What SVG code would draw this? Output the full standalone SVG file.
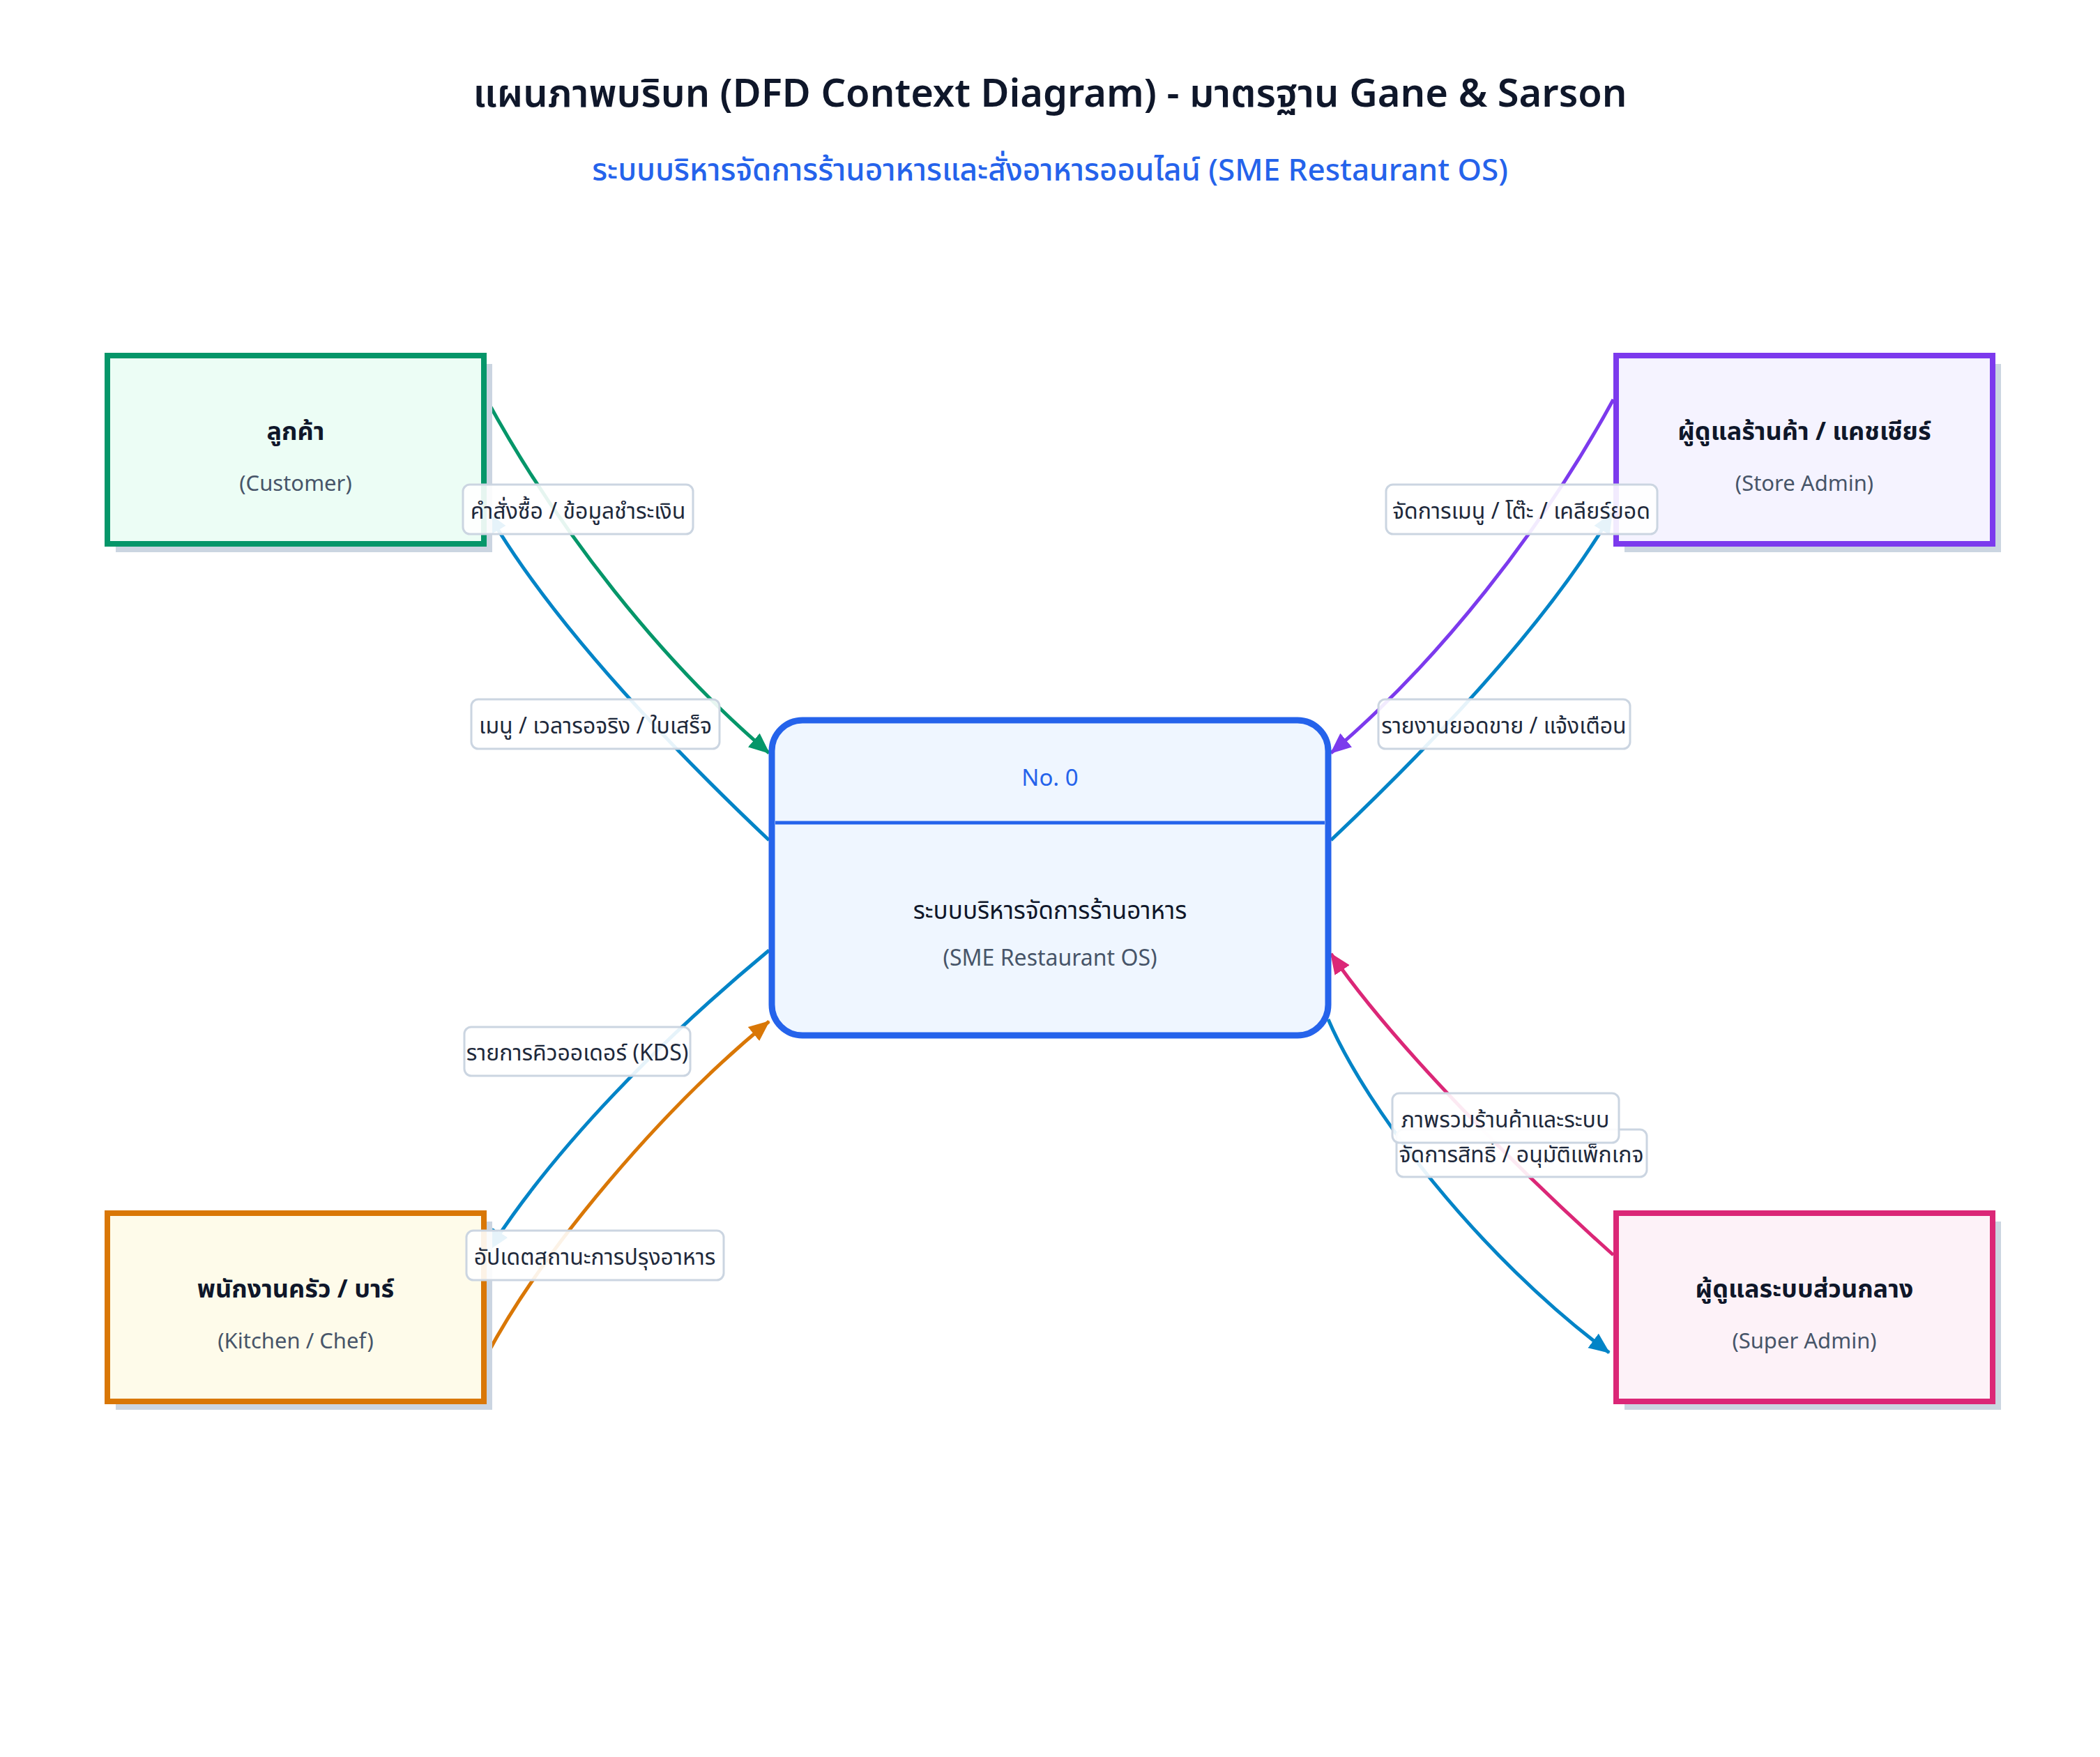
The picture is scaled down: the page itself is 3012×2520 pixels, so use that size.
<svg xmlns="http://www.w3.org/2000/svg" width="3012" height="2520" viewBox="0 0 3012 2520">
<style>
text{font-family:"Noto Sans","Noto Sans Thai",sans-serif}
.title{font-size:56px;font-weight:600;fill:#0f172a;text-anchor:middle}
.subtitle{font-size:44px;font-weight:500;fill:#2563eb;text-anchor:middle}
.shadow{fill:#cbd5e1}
.ent{stroke-width:8}
.nt{font-size:36px;font-weight:700;fill:#0f172a;text-anchor:middle;dominant-baseline:central}
.ns{font-size:31px;fill:#475569;text-anchor:middle;dominant-baseline:central}
.flow{fill:none;stroke-width:5}
.lbl rect{fill:#ffffff;fill-opacity:0.9;stroke:#cbd5e1;stroke-width:3}
.lbl text{font-size:32px;fill:#1e293b;text-anchor:middle;dominant-baseline:central}
</style>
<defs>
<marker id="ag" viewBox="0 0 10 10" refX="9.5" refY="5" markerWidth="6" markerHeight="6" orient="auto" markerUnits="strokeWidth"><path d="M0,0.7 L10,5 L0,9.3 z" fill="#059669"/></marker>
<marker id="ab" viewBox="0 0 10 10" refX="9.5" refY="5" markerWidth="6" markerHeight="6" orient="auto" markerUnits="strokeWidth"><path d="M0,0.7 L10,5 L0,9.3 z" fill="#0284c7"/></marker>
<marker id="ap" viewBox="0 0 10 10" refX="9.5" refY="5" markerWidth="6" markerHeight="6" orient="auto" markerUnits="strokeWidth"><path d="M0,0.7 L10,5 L0,9.3 z" fill="#7c3aed"/></marker>
<marker id="ao" viewBox="0 0 10 10" refX="9.5" refY="5" markerWidth="6" markerHeight="6" orient="auto" markerUnits="strokeWidth"><path d="M0,0.7 L10,5 L0,9.3 z" fill="#d97706"/></marker>
<marker id="ak" viewBox="0 0 10 10" refX="9.5" refY="5" markerWidth="6" markerHeight="6" orient="auto" markerUnits="strokeWidth"><path d="M0,0.7 L10,5 L0,9.3 z" fill="#db2777"/></marker>
</defs>
<rect width="3012" height="2520" fill="#ffffff"/>
<text class="title" x="1506" y="153">แผนภาพบริบท (DFD Context Diagram) - มาตรฐาน Gane &amp; Sarson</text>
<text class="subtitle" x="1506" y="259">ระบบบริหารจัดการร้านอาหารและสั่งอาหารออนไลน์ (SME Restaurant OS)</text>

<g id="connectors">
<path class="flow" stroke="#059669" marker-end="url(#ag)" d="M698 573 C800 760 950 950 1103 1080"/>
<path class="flow" stroke="#0284c7" marker-end="url(#ab)" d="M1103 1205 C950 1060 790 890 700 736"/>
<path class="flow" stroke="#7c3aed" marker-end="url(#ap)" d="M2314 573 C2212 760 2062 950 1909 1080"/>
<path class="flow" stroke="#0284c7" marker-end="url(#ab)" d="M1909 1205 C2062 1060 2222 890 2312 736"/>
<path class="flow" stroke="#0284c7" marker-end="url(#ab)" d="M1103 1363 C950 1490 800 1640 702 1792"/>
<path class="flow" stroke="#d97706" marker-end="url(#ao)" d="M698 1944 C780 1790 950 1590 1103 1465"/>
<path class="flow" stroke="#0284c7" marker-end="url(#ab)" d="M1905 1462 C1960 1590 2120 1800 2308 1940"/>
<path class="flow" stroke="#db2777" marker-end="url(#ak)" d="M2314 1800 C2180 1680 2000 1500 1909 1368"/>
</g>

<g id="customer">
<rect class="shadow" x="166" y="522" width="540" height="270"/>
<rect class="ent" x="154" y="510" width="540" height="270" fill="#ecfdf5" stroke="#059669"/>
<text class="nt" x="424" y="617">ลูกค้า</text>
<text class="ns" x="424" y="692">(Customer)</text>
</g>
<g id="store-admin">
<rect class="shadow" x="2330" y="522" width="540" height="270"/>
<rect class="ent" x="2318" y="510" width="540" height="270" fill="#f5f3ff" stroke="#7c3aed"/>
<text class="nt" x="2588" y="617">ผู้ดูแลร้านค้า / แคชเชียร์</text>
<text class="ns" x="2588" y="692">(Store Admin)</text>
</g>
<g id="kitchen">
<rect class="shadow" x="166" y="1752" width="540" height="270"/>
<rect class="ent" x="154" y="1740" width="540" height="270" fill="#fefbea" stroke="#d97706"/>
<text class="nt" x="424" y="1847">พนักงานครัว / บาร์</text>
<text class="ns" x="424" y="1922">(Kitchen / Chef)</text>
</g>
<g id="super-admin">
<rect class="shadow" x="2330" y="1752" width="540" height="270"/>
<rect class="ent" x="2318" y="1740" width="540" height="270" fill="#fdf2f8" stroke="#db2777"/>
<text class="nt" x="2588" y="1847">ผู้ดูแลระบบส่วนกลาง</text>
<text class="ns" x="2588" y="1922">(Super Admin)</text>
</g>
<g id="process-0">
<rect x="1107" y="1033" width="798" height="452" rx="44" fill="#eff6ff" stroke="#2563eb" stroke-width="9"/>
<line x1="1112" y1="1180" x2="1900" y2="1180" stroke="#2563eb" stroke-width="5"/>
<text x="1506" y="1114" font-size="33" fill="#2563eb" text-anchor="middle" dominant-baseline="central">No. 0</text>
<text x="1506" y="1304" font-size="35" fill="#0f172a" text-anchor="middle" dominant-baseline="central">ระบบบริหารจัดการร้านอาหาร</text>
<text x="1506" y="1372" font-size="32" fill="#475569" text-anchor="middle" dominant-baseline="central">(SME Restaurant OS)</text>
</g>

<g id="labels">
<g class="lbl"><rect x="664" y="695" width="330" height="71" rx="10"/><text x="829" y="731">คำสั่งซื้อ / ข้อมูลชำระเงิน</text></g>
<g class="lbl"><rect x="676" y="1003" width="356" height="71" rx="10"/><text x="854" y="1039">เมนู / เวลารอจริง / ใบเสร็จ</text></g>
<g class="lbl"><rect x="1988" y="695" width="389" height="71" rx="10"/><text x="2182" y="731">จัดการเมนู / โต๊ะ / เคลียร์ยอด</text></g>
<g class="lbl"><rect x="1977" y="1003" width="361" height="71" rx="10"/><text x="2157" y="1039">รายงานยอดขาย / แจ้งเตือน</text></g>
<g class="lbl"><rect x="666" y="1473" width="324" height="70" rx="10"/><text x="828" y="1508">รายการคิวออเดอร์ (KDS)</text></g>
<g class="lbl"><rect x="669" y="1765" width="369" height="71" rx="10"/><text x="853" y="1801">อัปเดตสถานะการปรุงอาหาร</text></g>
<g class="lbl"><rect x="2003" y="1620" width="359" height="68" rx="10"/><text x="2182" y="1654">จัดการสิทธิ์ / อนุมัติแพ็กเกจ</text></g>
<g class="lbl"><rect x="1997" y="1568" width="325" height="71" rx="10"/><text x="2159" y="1604">ภาพรวมร้านค้าและระบบ</text></g>
</g>
</svg>
